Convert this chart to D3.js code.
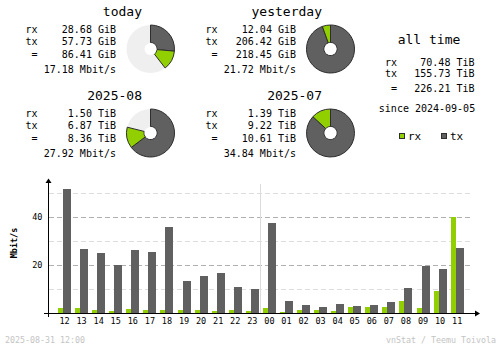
<!DOCTYPE html>
<html><head><meta charset="utf-8">
<script src="https://cdn.jsdelivr.net/npm/d3@7"></script>
<style>
html,body{margin:0;padding:0;background:#fff;}
svg{display:block;font-family:"DejaVu Sans Mono","Liberation Mono",monospace;}
</style></head>
<body>
<svg id="c" width="500" height="348"></svg>
<script>
// ---- data ----
const periods = ["today", "yesterday", "2025-08", "2025-07"];
const rxValues = [28.68, 12.04, 1.50, 1.39];
const txValues = [57.73, 206.42, 6.87, 9.22];
const totalValues = [86.41, 218.45, 8.36, 10.61];
const units = ["GiB", "GiB", "TiB", "TiB"];
const rates = [17.18, 21.72, 27.92, 34.84];
const pieReference = [218.45, 218.45, 10.61, 10.61];

const allTimeLabels = ["rx", "tx", "="];
const allTimeValues = [70.48, 155.73, 226.21];
const allTimeUnit = "TiB";
const sinceDate = "2024-09-05";

const hours = ["12","13","14","15","16","17","18","19","20","21","22","23","00","01","02","03","04","05","06","07","08","09","10","11"];
const rxRate = [2.2, 2.2, 1.4, 1.0, 1.8, 1.4, 1.4, 1.4, 1.4, 1.0, 1.4, 1.0, 2.2, 0.5, 1.4, 1.4, 1.0, 2.6, 2.6, 2.6, 5.1, 2.2, 9.3, 40.1];
const txRate = [51.8, 26.8, 25.1, 19.8, 26.4, 25.6, 36.0, 13.5, 15.6, 16.8, 11.0, 10.1, 37.6, 5.1, 3.5, 2.6, 3.9, 3.0, 3.5, 4.7, 10.5, 19.7, 18.5, 27.2];
const yTicks = [20, 40];
const yGrid = [10, 20, 30, 40, 50];
const footerLeft = "2025-08-31 12:00";
const footerRight = "vnStat / Teemu Toivola";

const RX = "#92cf00", TX = "#606060", EDGE = "#2e2e2e", PIEBG = "#efefef";

const svg = d3.select("#c");

// ---- summary blocks ----
const blockPos = [[0,0],[180,0],[0,84],[180,84]];
const arc = d3.arc().innerRadius(6.5).outerRadius(24);

periods.forEach((p, i) => {
  const [dx, dy] = blockPos[i];
  const g = svg.append("g").attr("transform", `translate(${dx},${dy})`);
  g.append("text").attr("x", 142).attr("y", 16).attr("text-anchor", "end")
    .attr("font-size", 13).text(p);
  const rows = [["rx", rxValues[i].toFixed(2) + " " + units[i], 32.5],
                ["tx", txValues[i].toFixed(2) + " " + units[i], 44.5],
                [" =", totalValues[i].toFixed(2) + " " + units[i], 57.5]];
  rows.forEach(r => {
    g.append("text").attr("x", 25.5).attr("y", r[2]).attr("font-size", 10)
      .attr("xml:space", "preserve").style("white-space", "pre").text(r[0]);
    g.append("text").attr("x", 116).attr("y", r[2]).attr("font-size", 10)
      .attr("text-anchor", "end").text(r[1]);
  });
  g.append("text").attr("x", 116).attr("y", 72.5).attr("font-size", 10)
    .attr("text-anchor", "end").text(rates[i].toFixed(2) + " Mbit/s");

  // pie
  const pg = g.append("g").attr("transform", "translate(150.5,49)");
  pg.append("circle").attr("r", 24).attr("fill", PIEBG);
  const ang = d3.scaleLinear().domain([0, pieReference[i]]).range([0, 2 * Math.PI]);
  const txEnd = ang(txValues[i]);
  const rxEnd = ang(txValues[i] + rxValues[i]);
  pg.append("path").attr("d", arc({startAngle: 0, endAngle: txEnd}))
    .attr("fill", TX).attr("stroke", EDGE).attr("stroke-width", 1);
  pg.append("path").attr("d", arc({startAngle: txEnd, endAngle: Math.min(rxEnd, 2*Math.PI)}))
    .attr("fill", RX).attr("stroke", EDGE).attr("stroke-width", 1);
  pg.append("circle").attr("r", 6).attr("fill", "#fff");
});

// all time
const at = svg.append("g");
at.append("text").attr("x", 429).attr("y", 44).attr("text-anchor", "middle")
  .attr("font-size", 13).text("all time");
const atY = [65.7, 77, 91.5];
allTimeLabels.forEach((l, i) => {
  at.append("text").attr("x", i === 2 ? 391 : 385).attr("y", atY[i]).attr("font-size", 10).text(l);
  at.append("text").attr("x", 474.5).attr("y", atY[i]).attr("font-size", 10)
    .attr("text-anchor", "end").text(allTimeValues[i].toFixed(2) + " " + allTimeUnit);
});
at.append("text").attr("x", 427).attr("y", 112).attr("text-anchor", "middle")
  .attr("font-size", 10).text("since " + sinceDate);
// legend
[["rx", RX, 399], ["tx", TX, 441]].forEach(d => {
  at.append("rect").attr("x", d[2] + 0.5).attr("y", 133.5).attr("width", 5).attr("height", 5)
    .attr("fill", d[1]).attr("stroke", EDGE).attr("stroke-width", 1);
  at.append("text").attr("x", d[2] + 9).attr("y", 139.5).attr("font-size", 11).text(d[0]);
});

// ---- hourly bar chart ----
const y = d3.scaleLinear().domain([0, 55]).range([313, 181]);
const x = d3.scaleBand().domain(hours).range([56, 465.7]).paddingInner(0).paddingOuter(0);

const grid = svg.append("g");
yGrid.forEach(v => {
  grid.append("line").attr("x1", 49).attr("x2", 472).attr("y1", Math.round(y(v)) + 0.5).attr("y2", Math.round(y(v)) + 0.5)
    .attr("stroke", v % 20 === 0 ? "#b0b0b0" : "#dedede").attr("stroke-width", 1)
    .attr("stroke-dasharray", "5,3");
});
// day separator
const sepX = Math.round(x("00")) - 0.5;
svg.append("line").attr("x1", sepX).attr("x2", sepX).attr("y1", 184).attr("y2", y(0))
  .attr("stroke", "#dcdcdc").attr("stroke-width", 1);

const bars = svg.append("g").attr("shape-rendering", "crispEdges");
hours.forEach((h, i) => {
  const cx = x(h) + x.bandwidth() / 2;
  bars.append("rect").attr("x", Math.round(cx - 6.5)).attr("width", 5)
    .attr("y", y(rxRate[i])).attr("height", y(0) - y(rxRate[i])).attr("fill", RX);
  bars.append("rect").attr("x", Math.round(cx - 1.5)).attr("width", 8)
    .attr("y", y(txRate[i])).attr("height", y(0) - y(txRate[i])).attr("fill", TX);
});

// axes
const xa = svg.append("g").attr("transform", `translate(0,${y(0)})`)
  .call(d3.axisBottom(x).tickSize(0).tickPadding(4.5));
xa.select(".domain").remove();
xa.selectAll("text").attr("font-size", 8.5).attr("font-family", "DejaVu Sans Mono").attr("fill", "#000");

const ya = svg.append("g").attr("transform", "translate(48.5,0)")
  .call(d3.axisLeft(y).tickValues(yTicks).tickSize(0).tickPadding(6));
ya.select(".domain").remove();
ya.selectAll("text").attr("font-size", 8.5).attr("font-family", "DejaVu Sans Mono").attr("fill", "#000");

const ax = svg.append("g").attr("stroke", "#000").attr("stroke-width", 1);
ax.append("line").attr("x1", 48.5).attr("x2", 48.5).attr("y1", 181).attr("y2", 317);
ax.append("line").attr("x1", 44).attr("x2", 477).attr("y1", y(0) + 0.5).attr("y2", y(0) + 0.5);
svg.append("path").attr("d", "M45.5,183 L48.5,178.5 L51.5,183 Z").attr("fill", "#000");
svg.append("path").attr("d", `M475,${y(0)-2.5} L480,${y(0)+0.5} L475,${y(0)+3.5} Z`).attr("fill", "#000");

svg.append("text").attr("transform", "translate(17,243) rotate(-90)")
  .attr("text-anchor", "middle").attr("font-size", 8.5).attr("font-weight", "bold").text("Mbit/s");

// footer
svg.append("text").attr("x", 5).attr("y", 342.5).attr("font-size", 8.3).attr("fill", "#c4c4c4").text(footerLeft);
svg.append("text").attr("x", 496).attr("y", 342.5).attr("font-size", 8.3).attr("fill", "#c4c4c4")
  .attr("text-anchor", "end").text(footerRight);
</script>
</body></html>
